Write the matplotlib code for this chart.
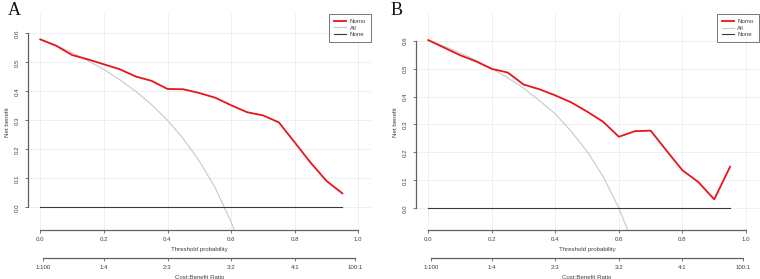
import matplotlib
matplotlib.use("Agg")
import matplotlib.pyplot as plt
import numpy as np

plt.rcParams['font.family'] = ['Liberation Sans', 'DejaVu Sans']

thresholds = [0.00, 0.05, 0.10, 0.15, 0.20, 0.25, 0.30, 0.35, 0.40, 0.45,
              0.50, 0.55, 0.60, 0.65, 0.70, 0.75, 0.80, 0.85, 0.90, 0.95]

nomo_a = [0.579, 0.557, 0.525, 0.510, 0.493, 0.476, 0.451, 0.436, 0.408, 0.407,
          0.394, 0.378, 0.352, 0.328, 0.317, 0.293, 0.224, 0.154, 0.091, 0.048]
all_t = [0.00, 0.05, 0.10, 0.15, 0.20, 0.25, 0.30, 0.35, 0.40, 0.45,
         0.50, 0.55, 0.60, 0.65]
all_a = [0.579, 0.558, 0.533, 0.506, 0.475, 0.440, 0.400, 0.354, 0.300, 0.236,
         0.160, 0.067, -0.050, -0.200]
none_a = [0.0] * len(thresholds)

nomo_b = [0.602, 0.575, 0.548, 0.526, 0.499, 0.486, 0.443, 0.426, 0.404, 0.379,
          0.346, 0.310, 0.256, 0.276, 0.278, 0.206, 0.136, 0.094, 0.032, 0.149]
all_b = [0.602, 0.580, 0.556, 0.530, 0.500, 0.467, 0.430, 0.385, 0.338, 0.275,
         0.203, 0.115, 0.000, -0.140]
none_b = [0.0] * len(thresholds)

x_ticks = [0.0, 0.2, 0.4, 0.6, 0.8, 1.0]
x_ticklabels = ["0.0", "0.2", "0.4", "0.6", "0.8", "1.0"]
y_ticks = [0.0, 0.1, 0.2, 0.3, 0.4, 0.5, 0.6]
y_ticklabels = ["0.0", "0.1", "0.2", "0.3", "0.4", "0.5", "0.6"]
cb_ticks = [0.01, 0.2, 0.4, 0.6, 0.8, 0.99]
cb_labels = ["1:100", "1:4", "2:3", "3:2", "4:1", "100:1"]
legend_labels = ["Nomo", "All", "None"]
panel_labels = ["A", "B"]

W, H = 760, 279
fig = plt.figure(figsize=(W / 100, H / 100), dpi=100)

RED = "#e8141c"
GREY = "#c8c8c8"
DARK = "#3a3a3a"
AXC = "#606060"
TXT = "#404040"
FS = 4.4


def px_axes(l, t, r, b):
    return fig.add_axes([l / W, 1 - b / H, (r - l) / W, (b - t) / H])


def panel(l, t, r, b, ylim, nomo, allv, nonev, label, lab_x):
    ax = px_axes(l, t, r, b)
    ax.set_xlim(-0.04, 1.04)
    ax.set_ylim(*ylim)
    ax.set_xticks(x_ticks)
    ax.set_yticks(y_ticks)
    ax.grid(True, color="#ececec", linewidth=0.6)
    ax.set_axisbelow(True)
    for s in ["top", "right"]:
        ax.spines[s].set_visible(False)
    ax.spines["left"].set_bounds(0.0, 0.6)
    ax.spines["bottom"].set_bounds(0.0, 1.0)
    for s in ["left", "bottom"]:
        ax.spines[s].set_color(AXC)
        ax.spines[s].set_linewidth(0.9)
    ax.set_xticklabels(x_ticklabels, fontsize=FS, color=TXT)
    ax.set_yticklabels(y_ticklabels, fontsize=FS, color=TXT, rotation=90, va="center")
    ax.tick_params(axis="both", length=2.5, width=0.6, color=AXC, pad=2.8)
    ax.set_xlabel("Threshold probability", fontsize=FS, color=TXT, labelpad=3.2)
    ax.set_ylabel("Net benefit", fontsize=FS, color=TXT, labelpad=3.5)

    l1, = ax.plot(thresholds, nomo, color=RED, lw=1.3, zorder=4)
    l2, = ax.plot(all_t, allv, color=GREY, lw=0.8, zorder=3)
    l3, = ax.plot(thresholds, nonev, color=DARK, lw=0.8, zorder=3)

    leg = ax.legend([l1, l2, l3], legend_labels, loc="upper right",
                    bbox_to_anchor=(1.0, 1.0), borderaxespad=0.0,
                    fontsize=FS, frameon=True, fancybox=False,
                    handlelength=2.0, handletextpad=0.6, labelspacing=0.2,
                    borderpad=0.8, edgecolor=DARK)
    leg.get_frame().set_linewidth(0.6)
    for t in leg.get_texts():
        t.set_color(TXT)

    # cost:benefit axis
    ax2 = px_axes(l, 257.7, r, 258.0)
    ax2.set_xlim(-0.04, 1.04)
    ax2.set_ylim(0, 1)
    ax2.patch.set_visible(False)
    for s in ["top", "right", "left"]:
        ax2.spines[s].set_visible(False)
    ax2.spines["bottom"].set_bounds(cb_ticks[0], cb_ticks[-1])
    ax2.spines["bottom"].set_color(AXC)
    ax2.spines["bottom"].set_linewidth(0.9)
    ax2.set_yticks([])
    ax2.set_xticks(cb_ticks)
    ax2.set_xticklabels(cb_labels, fontsize=FS, color=TXT)
    ax2.tick_params(axis="x", length=2.5, width=0.6, color=AXC, pad=2.8)
    ax2.set_xlabel("Cost:Benefit Ratio", fontsize=FS, color=TXT, labelpad=3.2)

    fig.text(lab_x / W, 1 - 10.5 / H, label, family="Liberation Serif",
             fontsize=13, va="center", ha="left", color="#111111")
    return ax


panel(27.6, 13.9, 371.0, 230.0, (-0.0783, 0.6669), nomo_a, all_a, none_a,
      panel_labels[0], 7.5)
panel(415.6, 14.0, 758.7, 230.0, (-0.0777, 0.6955), nomo_b, all_b, none_b,
      panel_labels[1], 391.0)

fig.savefig("out.png", dpi=100)
